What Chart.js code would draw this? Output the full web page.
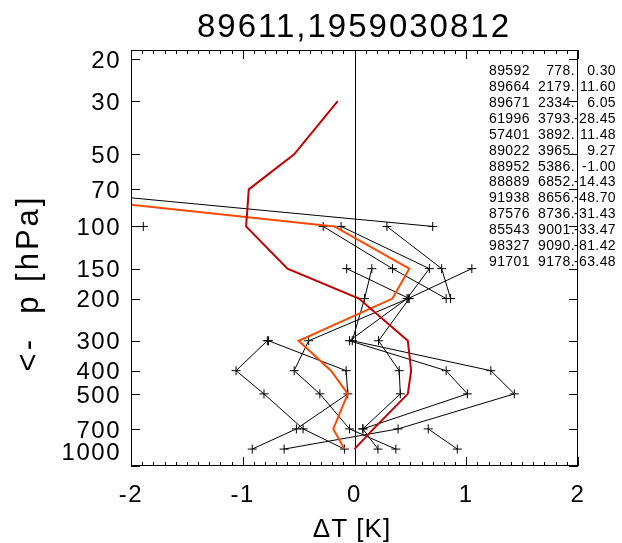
<!DOCTYPE html>
<html>
<head>
<meta charset="utf-8">
<script src="https://cdn.jsdelivr.net/npm/chart.js@4.4.0/dist/chart.umd.min.js"></script>
<style>
  html, body { margin: 0; padding: 0; background: #fff; }
  #wrap { width: 622px; height: 543px; }
</style>
</head>
<body>
<div id="wrap"><canvas id="profile" width="622" height="543"></canvas></div>
<script>
const chartTitle = '89611,1959030812';
const levels = [30, 50, 70, 100, 150, 200, 300, 400, 500, 700, 850];
const pressureTicks = [20, 30, 50, 70, 100, 150, 200, 300, 400, 500, 700, 1000];
const dtTicks = [-2, -1, 0, 1, 2];

// temperature departure per level (same order as levels), null where missing
const st1  = [null, -6.1, null, 0.70, null, null, null, null, null, null, null];
const st2  = [null, null, null, -0.28, 0.34, 0.82, null, null, null, null, null];
const st3  = [null, null, null, -0.12, 0.67, 0.47, -0.045, 0.82, 1.01, 0.075, 0.21];
const st4  = [null, null, null, 0.29, 0.78, 0.86, null, null, null, null, null];
const st5  = [null, null, null, null, 1.05, 0.48, -0.41, -0.54, -0.31, -0.045, 0.37];
const st6  = [null, null, null, null, -0.07, 0.49, 0.215, 0.40, 0.41, 0.075, null];
const st7  = [null, null, null, null, 0.155, 0.09, -0.02, 1.22, 1.43, 0.39, -0.63];
const st8  = [null, null, null, null, null, null, -0.78, -1.06, -0.81, -0.46, -0.09];
const st9  = [null, null, null, null, null, null, -0.77, -0.075, -0.06, -0.52, -0.915];
const st10 = [null, null, null, null, null, null, null, null, null, 0.66, 0.92];
const st11 = [null, null, null, -1.89, null, null, null, null, null, null, null];
const stations = [st1, st2, st3, st4, st5, st6, st7, st8, st9, st10, st11];

const meanDT = [null, -6.2, null, -0.18, 0.49, 0.34, -0.50, -0.21, -0.06, -0.19, -0.09];
const refDT  = [-0.15, -0.54, -0.946, -0.97, -0.60, 0.04, 0.477, 0.507, 0.477, 0.17, 0.0];

// neighbour list printed at the right
const nbIds  = ['89592', '89664', '89671', '61996', '57401', '89022', '88952', '88889', '91938', '87576', '85543', '98327', '91701'];
const nbDist = ['778.', '2179.', '2334.', '3793.', '3892.', '3965.', '5386.', '6852.', '8656.', '8736.', '9001.', '9090.', '9178.'];
const nbVal  = ['0.30', '11.60', '6.05', '-28.45', '11.48', '9.27', '-1.00', '-14.43', '-48.70', '-31.43', '-33.47', '-81.42', '-63.48'];

const FONT = "'Liberation Sans', Arial, sans-serif";

function toPoints(arr) {
  return levels.map((p, i) => ({ x: arr[i], y: p })).filter(pt => pt.x !== null);
}

const datasets = [
  { data: toPoints(refDT), borderColor: '#c40000', borderWidth: 2, pointRadius: 0 },
  { data: toPoints(meanDT), borderColor: '#ff4800', borderWidth: 2, pointRadius: 0 }
];
stations.forEach(s => {
  datasets.push({
    data: toPoints(s),
    borderColor: '#000',
    borderWidth: 1,
    pointStyle: 'cross',
    pointRadius: 4.5,
    pointBorderColor: '#000',
    pointBorderWidth: 1
  });
});

function spaced(ctx, px) {
  if ('letterSpacing' in ctx) ctx.letterSpacing = px + 'px';
}

const framePlugin = {
  id: 'frame',
  beforeDraw(chart) {
    spaced(chart.ctx, 1.5);
  },
  beforeDatasetsDraw(chart) {
    const { ctx, chartArea: a, scales } = chart;
    const x0 = Math.round(scales.x.getPixelForValue(0)) + 0.5;
    ctx.save();
    ctx.strokeStyle = '#000';
    ctx.lineWidth = 1;
    ctx.beginPath();
    ctx.moveTo(x0, a.top);
    ctx.lineTo(x0, a.bottom);
    ctx.stroke();
    ctx.restore();
  },
  afterDraw(chart) {
    const { ctx, chartArea: a, scales } = chart;
    ctx.save();
    ctx.strokeStyle = '#000';
    ctx.lineWidth = 1;
    ctx.strokeRect(a.left + 0.5, a.top + 0.5, a.right - a.left - 1, a.bottom - a.top - 1);

    // x ticks: majors every 1 K, minors every 0.1 K, top and bottom
    ctx.beginPath();
    for (let k = -20; k <= 20; k++) {
      const px = Math.round(scales.x.getPixelForValue(k / 10)) + 0.5;
      const len = k % 10 === 0 ? 9 : 4;
      ctx.moveTo(px, a.bottom);
      ctx.lineTo(px, a.bottom - len);
      ctx.moveTo(px, a.top);
      ctx.lineTo(px, a.top + len);
    }
    // pressure ticks, left and right
    pressureTicks.forEach(p => {
      const py = Math.round(scales.y.getPixelForValue(p)) + 0.5;
      ctx.moveTo(a.left, py);
      ctx.lineTo(a.left + 9, py);
      ctx.moveTo(a.right, py);
      ctx.lineTo(a.right - 9, py);
    });
    ctx.stroke();

    ctx.fillStyle = '#000';
    // title
    spaced(ctx, 2);
    ctx.font = '33px ' + FONT;
    ctx.textAlign = 'center';
    ctx.textBaseline = 'alphabetic';
    ctx.fillText(chartTitle, 354, 37);

    // x axis title
    spaced(ctx, 1);
    ctx.font = '26px ' + FONT;
    ctx.fillText('\u0394T [K]', 352, 537);

    // y axis title
    ctx.save();
    spaced(ctx, 3);
    ctx.translate(29, 283);
    ctx.rotate(-Math.PI / 2);
    ctx.font = '31px ' + FONT;
    ctx.textBaseline = 'middle';
    ctx.fillText('<-  p [hPa]', 0, 0);
    ctx.restore();

    // neighbour table
    spaced(ctx, 0.4);
    ctx.font = '14px ' + FONT;
    ctx.textBaseline = 'alphabetic';
    nbIds.forEach((id, i) => {
      const y = 75 + i * 15.92;
      ctx.textAlign = 'left';
      ctx.fillText(id, 489, y);
      ctx.textAlign = 'right';
      ctx.fillText(nbDist[i], 575, y);
      ctx.fillText(nbVal[i], 616, y);
    });
    ctx.restore();
  }
};

new Chart(document.getElementById('profile'), {
  type: 'line',
  data: { datasets },
  options: {
    responsive: false,
    animation: false,
    spanGaps: true,
    layout: { padding: { top: 50, right: 44, left: 0, bottom: 0 } },
    plugins: {
      legend: { display: false },
      tooltip: { enabled: false },
      title: { display: false }
    },
    scales: {
      x: {
        type: 'linear',
        min: -2,
        max: 2,
        grid: { display: false, drawTicks: false },
        border: { display: false },
        afterBuildTicks: s => { s.ticks = dtTicks.map(v => ({ value: v })); },
        afterFit: s => { s.height = 77; },
        ticks: {
          font: { family: FONT, size: 24 },
          color: '#000',
          padding: 15,
          autoSkip: false,
          maxRotation: 0
        }
      },
      y: {
        type: 'logarithmic',
        reverse: true,
        min: 18.34,
        max: 1000,
        grid: { display: false, drawTicks: false },
        border: { display: false },
        afterBuildTicks: s => { s.ticks = pressureTicks.map(v => ({ value: v })); },
        afterFit: s => { s.width = 131; },
        ticks: {
          font: { family: FONT, size: 24 },
          color: '#000',
          padding: 10,
          labelOffset: 2,
          autoSkip: false,
          // bottom label sits a half line higher, clear of the frame corner
          callback: v => (v === 1000 ? ['1000', ''] : String(v))
        }
      }
    }
  },
  plugins: [framePlugin]
});
</script>
</body>
</html>
